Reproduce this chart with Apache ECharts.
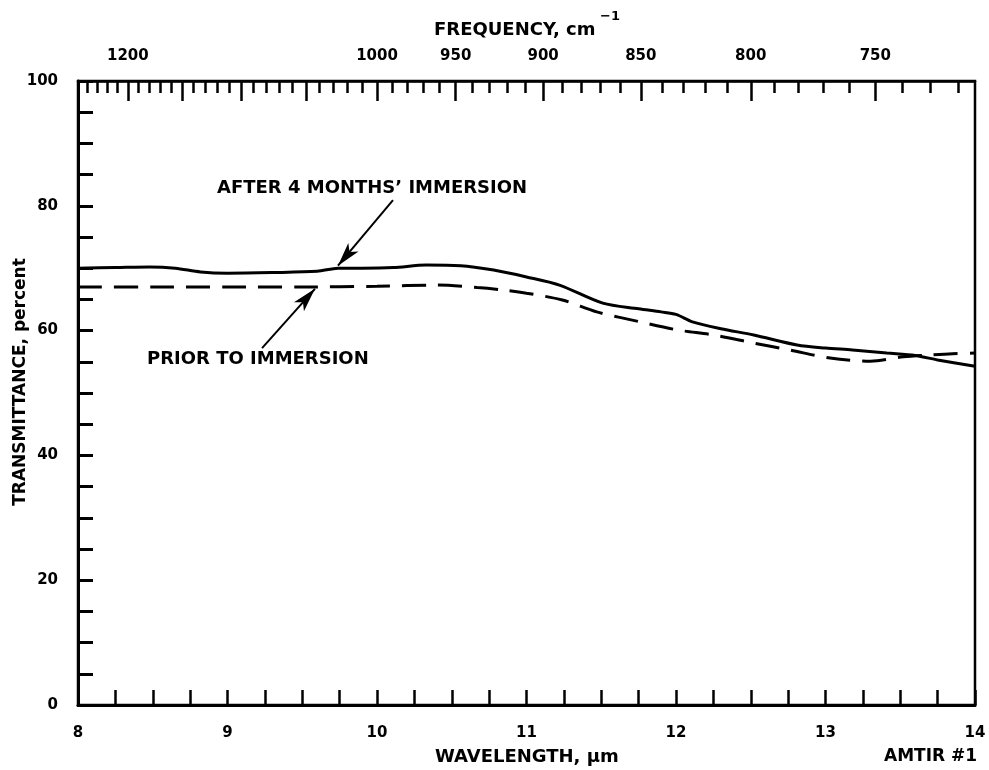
<!DOCTYPE html>
<html>
<head>
<meta charset="utf-8">
<script src="https://cdn.jsdelivr.net/npm/echarts@6/dist/echarts.min.js"></script>
<style>html,body{margin:0;padding:0;background:#fff}#c{width:989px;height:770px}</style>
</head>
<body>
<div id="c"></div>
<script>
// Wavelength (µm) and transmittance (%)
const afterWl  = [8.0, 8.25, 8.48, 8.65, 8.82, 9.0, 9.3, 9.6, 9.74, 9.9, 10.11, 10.33, 10.56, 10.78, 11.0, 11.22, 11.51, 11.75, 11.9, 12.0, 12.11, 12.3, 12.52, 12.81, 13.0, 13.18, 13.41, 13.6, 13.75, 14.0];
const afterT   = [70.0, 70.1, 70.2, 70.0, 69.4, 69.2, 69.3, 69.5, 70.0, 70.0, 70.1, 70.5, 70.4, 69.7, 68.6, 67.3, 64.4, 63.5, 63.0, 62.6, 61.4, 60.3, 59.3, 57.7, 57.2, 56.9, 56.4, 56.0, 55.3, 54.3];
const priorWl  = [8.0, 8.5, 9.0, 9.5, 10.0, 10.4, 10.67, 10.85, 11.0, 11.24, 11.47, 11.76, 12.01, 12.25, 12.52, 12.76, 13.03, 13.3, 13.52, 13.7, 13.85, 14.0];
const priorT   = [67.0, 67.0, 67.0, 67.0, 67.1, 67.3, 66.9, 66.5, 66.0, 64.9, 63.0, 61.4, 60.1, 59.3, 58.0, 56.9, 55.6, 55.1, 55.8, 56.1, 56.3, 56.4];
const freqMajor = [1250, 1200, 1150, 1100, 1050, 1000, 950, 900, 850, 800, 750];
const freqLabels = [1200, 1000, 950, 900, 850, 800, 750];
const freqMinor = [];
for (let f = 720; f <= 1250; f += 10) { if (f % 50 !== 0) freqMinor.push(f); }
const yLabels = [0, 20, 40, 60, 80, 100];

const toWl = f => 10000 / f;
const F = '"DejaVu Sans", "Liberation Sans", Arial, sans-serif';

const chart = echarts.init(document.getElementById('c'));
chart.setOption({
  animation: false,
  backgroundColor: '#fff',
  grid: { left: 78, right: 14, top: 81, bottom: 65, show: true, borderColor: '#000', borderWidth: 2.5, backgroundColor: 'transparent' },
  xAxis: [
    { type: 'value', position: 'bottom', min: 8, max: 14, interval: 0.25,
      axisLine: { show: true, lineStyle: { color: '#000', width: 3 } },
      axisTick: { show: true, inside: true, length: 15, lineStyle: { color: '#000', width: 2.5 } },
      axisLabel: { color: '#000', fontFamily: F, fontWeight: 'bold', fontSize: 15, margin: 21,
        formatter: v => Number.isInteger(v) ? String(v) : '' },
      splitLine: { show: false } },
    { type: 'value', position: 'top', min: 8, max: 14,
      axisLine: { show: true, lineStyle: { color: '#000', width: 2.5 } },
      axisTick: { show: true, inside: true, length: 12, customValues: freqMinor.map(toWl), lineStyle: { color: '#000', width: 2.5 } },
      axisLabel: { show: false },
      splitLine: { show: false } },
    { type: 'value', position: 'top', min: 8, max: 14,
      axisLine: { show: false },
      axisTick: { show: true, inside: true, length: 20, customValues: freqMajor.map(toWl), lineStyle: { color: '#000', width: 2.5 } },
      axisLabel: { show: true, color: '#000', fontFamily: F, fontWeight: 'bold', fontSize: 15, margin: 17,
        customValues: freqLabels.map(toWl), formatter: v => String(Math.round(10000 / v)) },
      splitLine: { show: false } }
  ],
  yAxis: [
    { type: 'value', min: 0, max: 100, interval: 5,
      axisLine: { show: true, lineStyle: { color: '#000', width: 3 } },
      axisTick: { show: true, inside: true, length: 15, lineStyle: { color: '#000', width: 3 } },
      axisLabel: { color: '#000', fontFamily: F, fontWeight: 'bold', fontSize: 15, margin: 20,
        formatter: v => yLabels.includes(v) ? String(v) : '' },
      splitLine: { show: false } }
  ],
  series: [
    { name: 'after', type: 'line', xAxisIndex: 0, showSymbol: false, smooth: 0.3,
      data: afterWl.map((w, i) => [w, afterT[i]]),
      lineStyle: { color: '#000', width: 3 },
      markLine: { silent: true, symbol: ['none', 'arrow'], symbolSize: [10, 24],
        label: { show: false }, lineStyle: { color: '#000', width: 2, type: 'solid' },
        data: [[{ coord: [10.107, 80.9] }, { coord: [9.739, 70.4] }]] } },
    { name: 'prior', type: 'line', xAxisIndex: 0, showSymbol: false, smooth: 0.3,
      data: priorWl.map((w, i) => [w, priorT[i]]),
      lineStyle: { color: '#000', width: 3, type: [24, 12] },
      markLine: { silent: true, symbol: ['none', 'arrow'], symbolSize: [10, 24],
        label: { show: false }, lineStyle: { color: '#000', width: 2, type: 'solid' },
        data: [[{ coord: [9.231, 57.2] }, { coord: [9.585, 66.7] }]] } }
  ],
  graphic: [
    { type: 'text', left: 434, top: 21, style: { text: 'FREQUENCY, cm', font: 'bold 18px ' + F, fill: '#000' } },
    { type: 'text', left: 600, top: 10, style: { text: '\u22121', font: 'bold 13px ' + F, fill: '#000' } },
    { type: 'text', left: 435, top: 748, style: { text: 'WAVELENGTH, \u00b5m', font: 'bold 18px ' + F, fill: '#000' } },
    { type: 'text', left: 884, top: 748, style: { text: 'AMTIR #1', font: 'bold 17px ' + F, fill: '#000' } },
    { type: 'text', x: 21, y: 382, rotation: Math.PI / 2, style: { text: 'TRANSMITTANCE, percent', font: 'bold 17px ' + F, fill: '#000', align: 'center', verticalAlign: 'middle' } },
    { type: 'text', left: 217, top: 179, style: { text: 'AFTER 4 MONTHS\u2019 IMMERSION', font: 'bold 18px ' + F, fill: '#000' } },
    { type: 'text', left: 147, top: 350, style: { text: 'PRIOR TO IMMERSION', font: 'bold 18px ' + F, fill: '#000' } }
  ]
});
</script>
</body>
</html>
